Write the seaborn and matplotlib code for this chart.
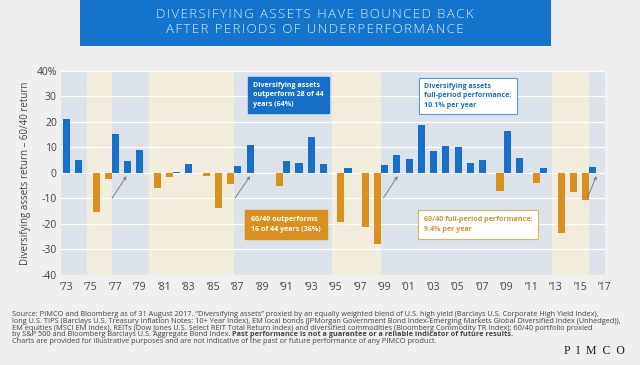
import matplotlib
matplotlib.use("Agg")
import matplotlib.pyplot as plt
import seaborn as sns
import pandas as pd
from matplotlib.patches import Rectangle

# ---------------- data ----------------
years = list(range(1973, 2017))
excess_return = [21.0, 5.0, -15.2, -2.6, 15.4, 4.6, 9.1, -6.1, -1.5, 0.5,
                 3.3, -1.2, -13.8, -4.3, 2.7, 11.1, 0.1, -5.2, 4.7, 3.9,
                 14.1, 3.5, -19.4, 1.8, -21.1, -28.0, 2.9, 7.0, 5.4, 18.7,
                 8.7, 10.6, 10.2, 3.9, 5.1, -7.2, 16.2, 5.7, -4.0, 2.0,
                 -23.6, -7.5, -10.7, 2.2]
period_starts = [1973, 1975, 1977, 1980, 1987, 1995, 1999, 2013, 2016]
period_kind = ["div", "6040", "div", "6040", "div", "6040", "div", "6040", "div"]
tick_years = list(range(1973, 2018, 2))
tick_labels = ["\u2019" + str(y)[2:] for y in tick_years]
y_ticks = [40, 30, 20, 10, 0, -10, -20, -30, -40]
y_tick_labels = ["40%", "30", "20", "10", "0", "-10", "-20", "-30", "-40"]
arrow_pairs = [(1976.72, -10, 1977.9, -1.3), (1986.78, -9.8, 1988.0, -1.3),
               (1998.9, -9.8, 2000.05, -1.3), (2015.56, -9.8, 2016.3, -1.3)]

df = pd.DataFrame({"year": years, "value": excess_return})
pos = df[df.value >= 0].copy()
neg = df[df.value < 0].copy()

# ---------------- style ----------------
BG = "#efefef"
BLUE = "#1670c9"
ORANGE = "#d9901e"
SHADE_BLUE = "#dce2ea"
SHADE_TAN = "#f2ecdc"
TXT = "#444444"
NARROW = ["Liberation Sans Narrow", "Open Sans", "DejaVu Sans"]

sns.set_theme(style="white")
plt.rcParams["font.family"] = ["Open Sans", "DejaVu Sans"]

fig = plt.figure(figsize=(6.4, 3.65), dpi=100, facecolor=BG)
ax = fig.add_axes([0.0953, 0.2466, 0.8500, 0.5597])
ax.set_facecolor(SHADE_BLUE)

XMIN, XMAX = 1972.55, 2017.0
BAR_W = 0.58
OFF = 0.42

# shaded periods
edges = [s - BAR_W / 2 for s in period_starts] + [XMAX]
edges[0] = XMIN
for i, kind in enumerate(period_kind):
    ax.axvspan(edges[i], edges[i + 1], color=SHADE_BLUE if kind == "div" else SHADE_TAN,
               lw=0, zorder=0)

for t in y_ticks:
    ax.axhline(t, color="white", lw=0.9, zorder=1)

sns.barplot(data=pos, x="year", y="value", native_scale=True, width=BAR_W,
            color=BLUE, saturation=1, ax=ax, zorder=3, linewidth=0)
neg_plot = neg.assign(year=neg.year + OFF)
sns.barplot(data=neg_plot, x="year", y="value", native_scale=True, width=BAR_W,
            color=ORANGE, saturation=1, ax=ax, zorder=3, linewidth=0)

ax.set_xlim(XMIN, XMAX)
ax.set_ylim(-40, 40)
ax.set_xticks(tick_years)
ax.set_xticklabels(tick_labels, fontsize=7.5, color=TXT)
ax.set_yticks(y_ticks)
ax.set_yticklabels(y_tick_labels, fontsize=7.5, color=TXT)
ax.tick_params(axis="both", length=0, pad=3)
ax.tick_params(axis="x", pad=5)
ax.set_xlabel("")
ax.set_ylabel("Diversifying assets return \u2013 60/40 return", fontsize=7, color=TXT,
              labelpad=4)
for s in ax.spines.values():
    s.set_visible(False)

for x0, y0, x1, y1 in arrow_pairs:
    ax.annotate("", xy=(x1, y1), xytext=(x0, y0),
                arrowprops=dict(arrowstyle="->", color="#707070", lw=0.6,
                                shrinkA=0, shrinkB=0, mutation_scale=5), zorder=4)

# annotation boxes
BFS = 5.1
ax.text(1988.25, 35.6, "Diversifying assets\noutperform 28 of 44\nyears (64%)",
        fontsize=BFS, fontweight="bold", color="white", family=NARROW, va="top",
        ha="left", linespacing=1.5, zorder=5,
        bbox=dict(boxstyle="square,pad=0.75", fc=BLUE, ec=BLUE))
ax.text(1988.1, -17.0, "60/40 outperforms\n16 of 44 years (36%)",
        fontsize=BFS, fontweight="bold", color="white", family=NARROW, va="top",
        ha="left", linespacing=1.5, zorder=5,
        bbox=dict(boxstyle="square,pad=0.85", fc=ORANGE, ec=ORANGE))
ax.text(2002.2, 35.2, "Diversifying assets\nfull-period performance:\n10.1% per year",
        fontsize=BFS, fontweight="bold", color="#1a6dc0", family=NARROW, va="top",
        ha="left", linespacing=1.5, zorder=5,
        bbox=dict(boxstyle="square,pad=0.75", fc="white", ec="#5a97d6", lw=0.8))
ax.text(2002.2, -17.0, "60/40 full-period performance:\n9.4% per year",
        fontsize=BFS, fontweight="bold", color="#d4922a", family=NARROW, va="top",
        ha="left", linespacing=1.5, zorder=5,
        bbox=dict(boxstyle="square,pad=0.85", fc="white", ec="#e0b15e", lw=0.8))

# title banner
fig.patches.append(Rectangle((80 / 640, 1 - 45.7 / 365), (551 - 80) / 640, 45.7 / 365,
                             transform=fig.transFigure, fc="#1474cc", ec="none"))
hs = "\u200a"
def spaced(s):
    return hs.join(list(s))
fig.text(314.5 / 640, 1 - 14.5 / 365, spaced("DIVERSIFYING ASSETS HAVE BOUNCED BACK"),
         ha="center", va="center", fontsize=9.5, color="#e6effa",
         family=["Open Sans", "DejaVu Sans"], fontweight="light")
fig.text(314.5 / 640, 1 - 29.5 / 365, spaced("AFTER PERIODS OF UNDERPERFORMANCE"),
         ha="center", va="center", fontsize=9.5, color="#e6effa",
         family=["Open Sans", "DejaVu Sans"], fontweight="light")

# footer
foot = [
    "Source: PIMCO and Bloomberg as of 31 August 2017. \u201cDiversifying assets\u201d proxied by an equally weighted blend of U.S. high yield (Barclays U.S. Corporate High Yield Index),",
    "long U.S. TIPS (Barclays U.S. Treasury Inflation Notes: 10+ Year Index), EM local bonds (JPMorgan Government Bond Index-Emerging Markets Global Diversified Index (Unhedged)),",
    "EM equities (MSCI EM Index), REITs (Dow Jones U.S. Select REIT Total Return Index) and diversified commodities (Bloomberg Commodity TR Index); 60/40 portfolio proxied",
]
fy = [315, 321.7, 328.3, 334.7, 341.3]
FS = 5.3
for line, yy in zip(foot, fy[:3]):
    fig.text(12 / 640, 1 - yy / 365, line, fontsize=FS, color=TXT, va="center",
             ha="left", family=NARROW)
t4 = fig.text(12 / 640, 1 - fy[3] / 365,
              "by S&P 500 and Bloomberg Barclays U.S. Aggregate Bond Index. ",
              fontsize=FS, color=TXT, va="center", ha="left", family=NARROW)
fig.add_artist(plt.Annotation(
    "Past performance is not a guarantee or a reliable indicator of future results.",
    xy=(1, 0.5), xycoords=t4, va="center", ha="left", fontsize=FS, color=TXT,
    fontweight="bold", family=NARROW))
fig.text(12 / 640, 1 - fy[4] / 365,
         "Charts are provided for illustrative purposes and are not indicative of the past or future performance of any PIMCO product.",
         fontsize=FS, color=TXT, va="center", ha="left", family=NARROW)
fig.text(594.5 / 640, 1 - 351.5 / 365, "P  I  M  C  O", fontsize=8.5, color="#1a1a1a",
         ha="center", va="center", family=["Liberation Serif", "DejaVu Serif"])

fig.savefig("out.png", dpi=100, facecolor=BG)
